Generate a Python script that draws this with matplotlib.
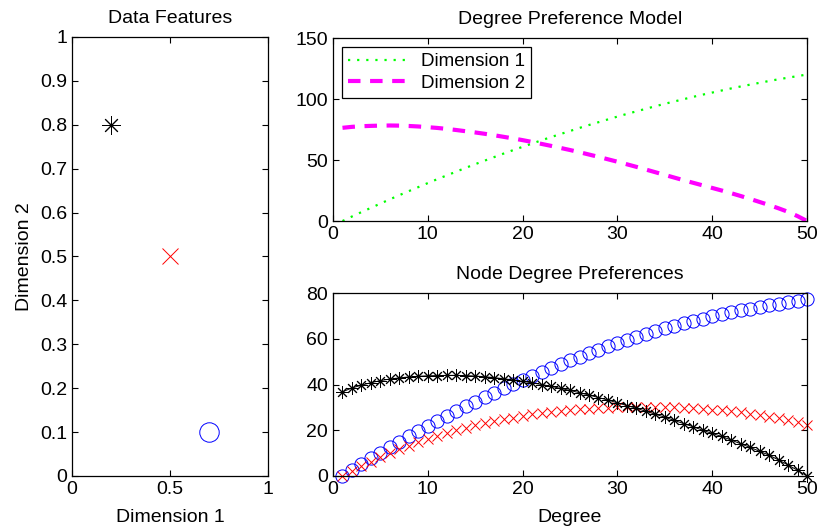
import matplotlib
matplotlib.use("Agg")
import matplotlib.pyplot as plt
from matplotlib.ticker import FormatStrFormatter

plt.rcParams['font.family'] = ['Liberation Sans', 'DejaVu Sans']
plt.rcParams['font.size'] = 14

# data features (dimension 1, dimension 2) for the three nodes
feat_star = (0.2, 0.8)
feat_cross = (0.5, 0.5)
feat_circle = (0.7, 0.1)

degree = list(range(1, 51))

# degree preference model
dim1 = [0.0, 3.7, 7.3, 10.8, 14.3, 17.8, 21.2, 24.5, 27.8, 31.1,
        34.3, 37.4, 40.5, 43.6, 46.6, 49.5, 52.4, 55.3, 58.1, 60.8,
        63.5, 66.2, 68.8, 71.3, 73.8, 76.3, 78.7, 81.0, 83.3, 85.6,
        87.8, 89.9, 92.0, 94.1, 96.1, 98.0, 99.9, 101.8, 103.6, 105.3,
        107.0, 108.7, 110.3, 111.8, 113.3, 114.8, 116.2, 117.5, 118.8, 120.1]
dim2 = [76.4, 77.2, 77.7, 78.0, 78.2, 78.3, 78.2, 77.9, 77.5, 76.9,
        76.3, 75.5, 74.6, 73.6, 72.6, 71.5, 70.3, 69.0, 67.7, 66.3,
        64.8, 63.2, 61.6, 59.9, 58.2, 56.4, 54.5, 52.6, 50.6, 48.6,
        46.5, 44.4, 42.2, 40.0, 37.8, 35.6, 33.4, 31.3, 29.2, 27.1,
        25.0, 22.8, 20.5, 18.1, 15.6, 13.1, 10.4, 7.5, 4.0, 0.0]

# node degree preferences
pref_circle = [0.0, 2.6, 5.2, 7.7, 10.1, 12.6, 15.0, 17.3, 19.6, 21.9,
               24.1, 26.3, 28.4, 30.5, 32.5, 34.5, 36.5, 38.4, 40.3, 42.1,
               43.9, 45.6, 47.3, 49.0, 50.6, 52.2, 53.7, 55.2, 56.7, 58.1,
               59.4, 60.8, 62.0, 63.3, 64.5, 65.6, 66.7, 67.8, 68.8, 69.8,
               70.7, 71.6, 72.4, 73.2, 74.0, 74.7, 75.4, 76.0, 76.6, 77.2]
pref_cross = [0.0, 2.3, 4.4, 6.3, 8.1, 9.9, 11.6, 13.2, 14.7, 16.1,
              17.5, 18.7, 19.9, 21.0, 22.1, 23.0, 23.9, 24.8, 25.5, 26.2,
              26.9, 27.5, 28.0, 28.4, 28.8, 29.2, 29.5, 29.7, 29.9, 30.0,
              30.1, 30.2, 30.2, 30.2, 30.1, 30.0, 29.8, 29.6, 29.3, 29.0,
              28.7, 28.3, 27.8, 27.3, 26.7, 26.0, 25.3, 24.5, 23.6, 22.5]
pref_star = [36.8, 38.5, 39.7, 40.8, 41.7, 42.4, 42.9, 43.3, 43.6, 43.8,
             43.9, 44.0, 44.0, 43.9, 43.7, 43.4, 43.0, 42.5, 42.0, 41.4,
             40.7, 40.0, 39.2, 38.3, 37.4, 36.4, 35.4, 34.3, 33.2, 32.0,
             30.8, 29.6, 28.3, 27.0, 25.7, 24.3, 22.9, 21.5, 20.0, 18.6,
             17.3, 15.7, 14.1, 12.5, 10.8, 9.1, 7.0, 4.8, 2.5, 0.0]

asterisk = (8, 2, 0)


def matlab_axes(ax):
    ax.tick_params(direction='in', top=True, right=True, length=4, width=0.8)
    for s in ax.spines.values():
        s.set_linewidth(0.9)


fig = plt.figure(figsize=(8.18, 5.29), dpi=100)

# left panel
ax1 = fig.add_axes([0.088, 0.1002, 0.2396, 0.830])
ax1.plot(*feat_star, marker=asterisk, color='k', ms=13, mew=0.7, ls='none')
ax1.plot(*feat_cross, marker='x', color='r', ms=11, mew=0.7, ls='none')
ax1.plot(*feat_circle, marker='o', color='b', mfc='none', ms=14, mew=0.7, ls='none')
ax1.set_xlim(0, 1)
ax1.set_ylim(0, 1)
ax1.set_xticks([0, 0.5, 1])
ax1.set_yticks([i / 10 for i in range(11)])
ax1.xaxis.set_major_formatter(FormatStrFormatter('%g'))
ax1.yaxis.set_major_formatter(FormatStrFormatter('%g'))
ax1.set_xlabel('Dimension 1', labelpad=8)
ax1.set_ylabel('Dimension 2', labelpad=5)
ax1.set_title('Data Features', fontsize=14, pad=10)
matlab_axes(ax1)

# top right panel
ax2 = fig.add_axes([0.4071, 0.5822, 0.5795, 0.3459])
ax2.plot(degree, dim1, color='#00ff00', lw=1.6, dashes=(1, 3.1), label='Dimension 1')
ax2.plot(degree, dim2, color='#ff00ff', lw=3, dashes=(3.0, 2.3), label='Dimension 2')
ax2.set_xlim(0, 50)
ax2.set_ylim(0, 150)
ax2.set_yticks([0, 50, 100, 150])
ax2.set_title('Degree Preference Model', fontsize=14, pad=10)
leg = ax2.legend(loc='upper left', fancybox=False, edgecolor='k', framealpha=1,
                 fontsize=13.5, handlelength=3.2, borderaxespad=0.5,
                 labelspacing=0.25, borderpad=0.3, handletextpad=0.7)
leg.get_frame().set_linewidth(0.9)
matlab_axes(ax2)

# bottom right panel
ax3 = fig.add_axes([0.4071, 0.1002, 0.5795, 0.3459])
ax3.plot(degree, pref_circle, marker='o', color='b', mfc='none', ms=9.5, mew=0.7,
         ls='none', clip_on=False)
ax3.plot(degree, pref_cross, marker='x', color='r', ms=7, mew=0.7, ls='none',
         clip_on=False)
ax3.plot(degree, pref_star, marker=asterisk, color='k', ms=9, mew=0.7, lw=0.7,
         clip_on=False)
ax3.set_xlim(0, 50)
ax3.set_ylim(0, 80)
ax3.set_xlabel('Degree', labelpad=8)
ax3.set_title('Node Degree Preferences', fontsize=14, pad=10)
matlab_axes(ax3)

fig.savefig('out.png', dpi=100)
